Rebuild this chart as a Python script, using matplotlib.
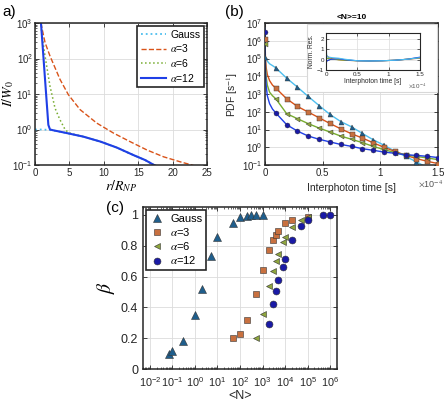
import numpy as np
import matplotlib
matplotlib.use('Agg')
import matplotlib.pyplot as plt
from matplotlib.ticker import LogLocator, NullFormatter
from matplotlib.patches import Rectangle

plt.rcParams['font.family'] = ['Liberation Sans', 'DejaVu Sans']
plt.rcParams['mathtext.fontset'] = 'stix'
plt.rcParams['axes.linewidth'] = 1.1
plt.rcParams['axes.edgecolor'] = '#262626'
plt.rcParams['xtick.color'] = '#262626'
plt.rcParams['ytick.color'] = '#262626'

# ---------------- colours ----------------
C_GAUSS_LINE = '#4DBEEE'
C_A3_LINE = '#D95319'
C_A6_LINE = '#77AC30'
C_A12_LINE = '#1F3FE6'
C_GAUSS_MK = '#1F5E8C'
C_A3_MK = '#C8703F'
C_A6_MK = '#8FA63E'
C_A12_MK = '#1A1AA6'

# ---------------- panel (a) data: r/R_NP vs log10(I/W0) ----------------
a_gauss_r = [0, 1, 2, 3, 4.6, 7.0, 9.5, 11.9, 14.3, 16.0, 17.3, 18.5]
a_gauss_log = [0, 0, -0.01, -0.04, -0.1, -0.2, -0.34, -0.51, -0.72, -0.86, -1.0, -1.12]
a_a3_r = [0.85, 1.46, 2.18, 3.64, 4.85, 6.55, 8.98, 11.4, 13.8, 16.3, 18.7, 21.1, 22.8, 23.5]
a_a3_log = [3.0, 2.45, 2.07, 1.41, 0.98, 0.56, 0.18, -0.1, -0.34, -0.58, -0.77, -0.91, -1.0, -1.05]
a_a6_r = [0.9, 0.97, 1.46, 2.18, 2.91, 3.64, 4.37, 4.85, 5.5, 7.0, 9.5, 11.9, 14.3, 16.0, 17.3]
a_a6_log = [3.05, 2.73, 2.07, 1.22, 0.6, 0.27, 0.0, -0.085, -0.13, -0.2, -0.34, -0.51, -0.72, -0.86, -1.0]
a_a12_r = [0.85, 1.46, 1.94, 2.18, 2.6, 4.6, 7.0, 9.5, 11.9, 14.3, 16.0, 17.3, 18.0]
a_a12_log = [3.05, 1.41, 0.13, 0.0, -0.02, -0.1, -0.2, -0.34, -0.51, -0.72, -0.86, -1.0, -1.06]

# ---------------- panel (b) data: interphoton time (x1e-4 s) vs log10 PDF ----------------
b_t = [0, 0.094, 0.188, 0.281, 0.375, 0.469, 0.563, 0.656, 0.75, 0.844,
       0.938, 1.031, 1.125, 1.219, 1.313, 1.406, 1.5]
b_gauss_log = [5.07, 4.47, 3.89, 3.39, 2.86, 2.35, 1.85, 1.45, 1.15, 0.78,
               0.42, 0.12, -0.22, -0.52, -0.82, -1.15, -1.5]
b_a3_log = [6.1, 3.33, 2.73, 2.30, 1.98, 1.66, 1.34, 1.04, 0.76, 0.52,
            0.25, 0.0, -0.23, -0.45, -0.64, -0.79, -0.92]
b_a6_log = [5.8, 2.73, 1.89, 1.61, 1.33, 1.08, 0.86, 0.63, 0.45, 0.26,
            0.05, -0.13, -0.30, -0.42, -0.52, -0.60, -0.70]
b_a12_log = [6.5, 1.93, 1.27, 0.91, 0.63, 0.45, 0.30, 0.16, 0.05, -0.08,
             -0.17, -0.27, -0.34, -0.42, -0.46, -0.51, -0.58]
# fitted curves: early part near t=0
b_fit_t0 = [0, 0.004, 0.01, 0.02, 0.04, 0.065]
b_gauss_fit0 = [5.1, 5.0, 4.95, 4.85, 4.7, 4.6]
b_a3_fit0 = [6.3, 5.0, 4.5, 4.1, 3.75, 3.5]
b_a6_fit0 = [6.1, 4.6, 4.0, 3.5, 3.1, 2.9]
b_a12_fit0 = [6.7, 4.3, 3.5, 2.9, 2.45, 2.15]

# inset residuals
r_t = [0, 0.005, 0.01, 0.02, 0.05, 0.1, 0.2, 0.3, 0.5, 0.7, 0.9, 1.1, 1.3, 1.5]
r_gauss = [2.2, 1.0, 0.5, 0.3, 0.25, 0.2, 0.15, 0.05, -0.1, -0.12, -0.1, -0.05, 0.05, 0.2]
r_a3 = [-1.0, 0.3, 0.4, 0.35, 0.2, 0.1, 0.0, -0.05, -0.1, -0.12, -0.1, -0.05, 0.05, 0.15]
r_a6 = [-0.5, -0.2, 0.1, 0.15, 0.1, 0.05, 0.0, -0.05, -0.1, -0.12, -0.1, -0.05, 0.05, 0.2]
r_a12 = [0.5, -0.3, -0.2, -0.1, 0.0, 0.05, 0.1, 0.0, -0.1, -0.12, -0.1, -0.05, 0.05, 0.25]

# ---------------- panel (c) data: <N> vs beta ----------------
c_gauss_N = [0.07, 0.1, 0.3, 1, 2, 5, 10, 50, 100, 200, 300, 500, 1000]
c_gauss_b = [0.10, 0.115, 0.185, 0.35, 0.52, 0.735, 0.855, 0.95, 0.99, 0.995, 1.0, 1.0, 1.0]
c_a3_N = [50, 100, 200, 500, 1000, 2000, 3000, 4000, 5000, 10000, 20000, 100000]
c_a3_b = [0.20, 0.23, 0.32, 0.49, 0.64, 0.775, 0.835, 0.87, 0.895, 0.945, 0.97, 0.99]
c_a6_N = [500, 1000, 2000, 3000, 4000, 5000, 8000, 10000, 20000, 50000, 100000]
c_a6_b = [0.20, 0.36, 0.54, 0.635, 0.70, 0.745, 0.825, 0.855, 0.925, 0.97, 0.99]
c_a12_N = [2000, 3000, 4000, 5000, 8000, 10000, 20000, 50000, 100000, 500000, 1000000]
c_a12_b = [0.295, 0.42, 0.505, 0.575, 0.665, 0.715, 0.835, 0.93, 0.965, 1.0, 1.0]

labels = ['Gauss', r'$\alpha$=3', r'$\alpha$=6', r'$\alpha$=12']

W, H = 444, 403
fig = plt.figure(figsize=(W / 100, H / 100), dpi=100)


def box(l, t, r, b):
    return [l / W, (H - b) / H, (r - l) / W, (b - t) / H]


def style(ax, fs):
    ax.tick_params(which='both', direction='in', top=True, right=True, labelsize=fs, pad=2)
    ax.tick_params(which='major', length=3, width=0.6)
    ax.tick_params(which='minor', length=1.5, width=0.5)
    ax.grid(True, which='major', color='#dcdcdc', linewidth=0.6)
    ax.set_axisbelow(True)


# ---------------- panel (a) ----------------
ax_a = fig.add_axes(box(35, 23, 207, 165))
ax_a.plot(a_gauss_r, 10 ** np.array(a_gauss_log), ':', color=C_GAUSS_LINE, lw=1.3, label=labels[0])
ax_a.plot(a_a3_r, 10 ** np.array(a_a3_log), '--', color=C_A3_LINE, lw=1.0, label=labels[1])
ax_a.plot(a_a6_r, 10 ** np.array(a_a6_log), ':', color=C_A6_LINE, lw=1.1, label=labels[2])
ax_a.plot(a_a12_r, 10 ** np.array(a_a12_log), '-', color=C_A12_LINE, lw=1.5, label=labels[3])
ax_a.set_yscale('log')
ax_a.set_xlim(0, 25)
ax_a.set_ylim(0.1, 1000)
ax_a.set_xticks([0, 5, 10, 15, 20, 25])
ax_a.yaxis.set_minor_formatter(NullFormatter())
style(ax_a, 7)
ax_a.tick_params(axis='y', which='major', pad=1.5)
ax_a.set_xlabel(r'$r/R_{NP}$', fontsize=10, labelpad=0)
ax_a.set_ylabel(r'$I/W_0$', fontsize=10)
ax_a.yaxis.set_label_coords(-0.108, 0.5)
leg = ax_a.legend(loc='upper right', fontsize=7.5, frameon=True, fancybox=False,
                  framealpha=1, edgecolor='#262626', borderpad=0.35, labelspacing=0.25,
                  handlelength=2.4, handletextpad=0.4, borderaxespad=0.3)
leg.get_frame().set_linewidth(1.2)
fig.text(2 / W, 1 - 12 / H, 'a)', fontsize=11, va='center', ha='left')

# ---------------- panel (b) ----------------
ax_b = fig.add_axes(box(265, 23, 438, 165))
fits = [(b_gauss_fit0, b_gauss_log, C_GAUSS_LINE), (b_a3_fit0, b_a3_log, C_A3_LINE),
        (b_a6_fit0, b_a6_log, C_A6_LINE), (b_a12_fit0, b_a12_log, C_A12_LINE)]
for f0, mk, c in fits:
    tt = list(b_fit_t0) + list(b_t[1:])
    yy = list(f0) + list(mk[1:])
    ax_b.plot(tt, 10 ** np.array(yy), '-', color=c, lw=1.0, zorder=2)
mk_specs = [(b_gauss_log, '^', C_GAUSS_MK), (b_a3_log, 's', C_A3_MK),
            (b_a6_log, '<', C_A6_MK), (b_a12_log, 'o', C_A12_MK)]
for vals, m, c in mk_specs:
    ax_b.plot(b_t, 10 ** np.array(vals), m, color=c, ms=3.6, mec='#333333', mew=0.3,
              zorder=3, clip_on=True)
ax_b.set_yscale('log')
ax_b.set_xlim(0, 1.5)
ax_b.set_ylim(0.1, 1e7)
ax_b.set_xticks([0, 0.5, 1, 1.5])
ax_b.set_xticklabels(['0', '0.5', '1', '1.5'])
ax_b.yaxis.set_major_locator(LogLocator(base=10, numticks=20))
ax_b.yaxis.set_minor_formatter(NullFormatter())
style(ax_b, 7)
ax_b.set_xlabel('Interphoton time [s]', fontsize=7.5, labelpad=4, color='#262626')
ax_b.set_ylabel(r'PDF [s$^{-1}$]', fontsize=7.5, labelpad=1, color='#262626')
ax_b.set_title('<N>=10', fontsize=6, fontweight='bold', pad=3)
fig.text(431 / W, 1 - 184 / H, r'$\times$10$^{-4}$', fontsize=6.5, ha='center', va='center',
         color='#555555')
fig.text(225 / W, 1 - 12 / H, '(b)', fontsize=11, va='center', ha='left')

# inset background
bg = Rectangle((307 / W, (H - 92) / H), 130 / W, 68 / H, transform=fig.transFigure,
               facecolor='white', edgecolor='#d8d8d8', lw=0.8, zorder=5)
fig.add_artist(bg)
ax_i = fig.add_axes(box(326, 33, 420, 70))
ax_i.set_zorder(6)
for vals, c in [(r_a3, C_A3_LINE), (r_a6, C_A6_LINE), (r_a12, C_A12_LINE), (r_gauss, C_GAUSS_LINE)]:
    ax_i.plot(r_t, vals, '-', color=c, lw=0.8)
ax_i.set_xlim(0, 1.5)
ax_i.set_ylim(-1, 2.6)
ax_i.set_xticks([0, 0.5, 1, 1.5])
ax_i.set_xticklabels(['0', '0.5', '1', '1.5'])
ax_i.set_yticks([-1, 0, 1, 2])
ax_i.tick_params(direction='in', top=True, right=True, labelsize=4.5, pad=1.5, length=2, width=0.5)
ax_i.grid(True, color='#dcdcdc', linewidth=0.5)
for s in ax_i.spines.values():
    s.set_linewidth(0.8)
ax_i.set_xlabel('Interphoton time [s]', fontsize=4.8, labelpad=1, color='#262626')
ax_i.set_ylabel('Norm. Res.', fontsize=4.8, labelpad=1, color='#262626')
fig.text(408 / W, 1 - 86 / H, r'$\times$10$^{-4}$', fontsize=4.5, ha='left', va='center',
         color='#555555', zorder=7)

# ---------------- panel (c) ----------------
ax_c = fig.add_axes(box(143, 206.5, 337, 369))
c_specs = [(c_gauss_N, c_gauss_b, '^', C_GAUSS_MK, 5.2), (c_a3_N, c_a3_b, 's', C_A3_MK, 4.2),
           (c_a6_N, c_a6_b, '<', C_A6_MK, 5.0), (c_a12_N, c_a12_b, 'o', C_A12_MK, 5.0)]
for (N, b, m, c, ms), lab in zip(c_specs, labels):
    ax_c.plot(N, b, m, color=c, ms=ms, mec='#333333', mew=0.4, linestyle='none', label=lab)
ax_c.set_xscale('log')
ax_c.set_xlim(0.005, 2e6)
ax_c.set_ylim(0, 1.055)
ax_c.xaxis.set_major_locator(LogLocator(base=10, numticks=20))
ax_c.xaxis.set_minor_locator(LogLocator(base=10, subs=np.arange(2, 10), numticks=20))
ax_c.xaxis.set_minor_formatter(NullFormatter())
ax_c.set_yticks([0, 0.2, 0.4, 0.6, 0.8, 1.0])
ax_c.set_yticklabels(['0', '0.2', '0.4', '0.6', '0.8', '1'])
style(ax_c, 9)
ax_c.tick_params(axis='x', which='major', labelsize=7.8, pad=4.5)
ax_c.tick_params(axis='y', which='major', pad=3.5)
ax_c.set_xlabel('<N>', fontsize=9, labelpad=1, color='#262626')
ax_c.set_ylabel(r'$\beta$', fontsize=14, labelpad=3)
leg = ax_c.legend(loc='upper left', fontsize=8, frameon=True, fancybox=False,
                  framealpha=1, edgecolor='#262626', borderpad=0.35, labelspacing=0.2,
                  handlelength=1.2, handletextpad=0.6, borderaxespad=0.3)
leg.get_frame().set_linewidth(1.2)
fig.text(106 / W, 1 - 208 / H, '(c)', fontsize=11, va='center', ha='left')

fig.savefig('out.png', dpi=100)
